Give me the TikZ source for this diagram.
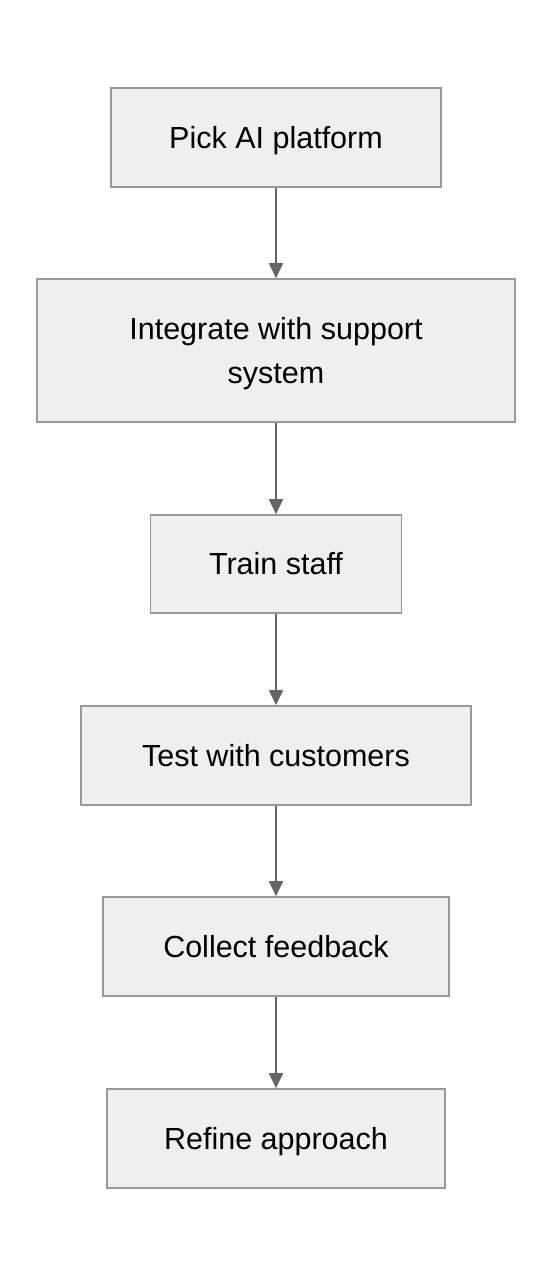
\documentclass[tikz,border=0pt]{standalone}
\usepackage{fontspec}
\setmainfont{Liberation Sans}
\usetikzlibrary{arrows.meta}
\definecolor{boxfill}{HTML}{EFEFEF}
\definecolor{boxline}{HTML}{999999}
\definecolor{arrowline}{HTML}{666666}
\begin{document}
\begin{tikzpicture}[x=1pt,y=1pt,
  stepbox/.style={draw=boxline,fill=boxfill,line width=1.6pt,inner sep=0pt,
    font=\fontsize{30.5}{44}\selectfont,align=center,minimum height=99pt,
    text height=21.8pt,text depth=0pt},
  flow/.style={-{Triangle[length=15pt,width=14pt]},draw=arrowline,fill=arrowline,line width=1.8pt}]

\useasboundingbox (0,0) rectangle (552,-1276);

\node (pick) at (276,-137.5) [stepbox,minimum width=330pt] {Pick AI platform};
\node (integrate) at (276,-350.5) [stepbox,minimum width=478pt,minimum height=143pt,text height=65.8pt] {Integrate with support\\system};
\node (train) at (276,-564) [stepbox,minimum width=251pt,minimum height=98pt] {Train staff};
\node (test) at (276,-755.5) [stepbox,minimum width=390pt] {Test with customers};
\node (collect) at (276,-946.5) [stepbox,minimum width=346pt] {Collect feedback};
\node (refine) at (276,-1138.5) [stepbox,minimum width=338pt] {Refine approach};

\draw [flow] (pick) -- (integrate);
\draw [flow] (integrate) -- (train);
\draw [flow] (train) -- (test);
\draw [flow] (test) -- (collect);
\draw [flow] (collect) -- (refine);
\end{tikzpicture}
\end{document}
